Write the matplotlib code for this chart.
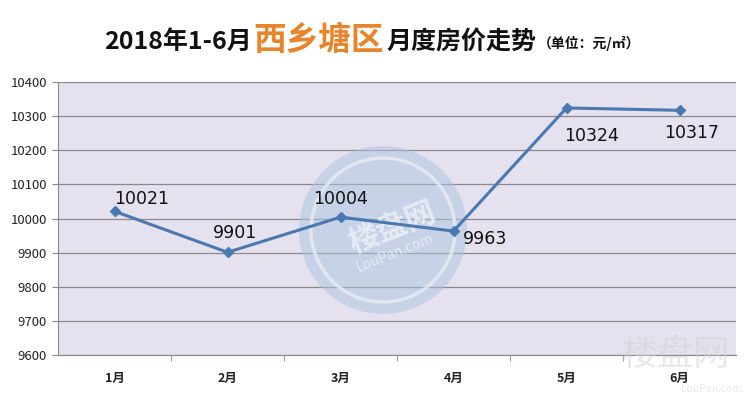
import matplotlib
matplotlib.use("Agg")
import matplotlib.pyplot as plt
from matplotlib.patches import Circle

plt.rcParams['font.family'] = ['Noto Sans CJK SC', 'DejaVu Sans']

months = ["1月", "2月", "3月", "4月", "5月", "6月"]
prices = [10021, 9901, 10004, 9963, 10324, 10317]
y_ticks = [9600, 9700, 9800, 9900, 10000, 10100, 10200, 10300, 10400]

# data-label centre offsets from each marker, in pixels (dx, dy)
label_offsets = [(27, 12), (8, 19), (0, 18), (32, -8), (25, -28), (12, -23)]

W, H = 749, 394
fig = plt.figure(figsize=(W / 100, H / 100), dpi=100)
fig.patch.set_facecolor("white")
ax = fig.add_axes([58 / W, (H - 355) / H, (736 - 58) / W, (355 - 82) / H])
ax.set_facecolor("#e6e1ee")

x = list(range(len(months)))
ax.set_xlim(-0.5, len(months) - 0.5)
ax.set_ylim(y_ticks[0], y_ticks[-1])
ax.set_yticks(y_ticks)
ax.set_yticklabels([str(v) for v in y_ticks], fontsize=9.5, color="#222222")
ax.set_xticks(x)
ax.set_xticklabels(months, fontsize=9, fontweight="bold", color="#222222")
ax.set_xticks([i + 0.5 for i in x[:-1]], minor=True)
ax.tick_params(axis="x", which="major", length=0, pad=12)
ax.tick_params(axis="x", which="minor", length=4, color="#888888")
ax.tick_params(axis="y", length=4, color="#888888", pad=4)
ax.grid(axis="y", color="#8a8a8a", linewidth=0.9)
ax.set_axisbelow(True)
for side in ("top", "right"):
    ax.spines[side].set_visible(False)
ax.spines["left"].set_color("#888888")
ax.spines["bottom"].set_color("#888888")

# faint watermark seal
ax_c = fig.add_axes([0, 0, 1, 1], zorder=1)
ax_c.set_xlim(0, W)
ax_c.set_ylim(H, 0)
ax_c.axis("off")
ax_c.add_patch(Circle((383, 230), 84, facecolor="#a9c4e2", alpha=0.5,
                      edgecolor="none"))
ax_c.add_patch(Circle((383, 230), 72, facecolor="none", edgecolor="#e8ecf4",
                      lw=2.5, alpha=0.8))
ax_c.text(392, 228, "楼盘网", fontsize=22, fontweight="bold", color="#e9eef6",
          rotation=22, ha="center", va="center", alpha=0.9)
ax_c.text(395, 253, "LouPan.com", fontsize=10, color="#e9eef6",
          rotation=22, ha="center", va="center", alpha=0.9)
ax_c.text(676, 355, "楼盘网", fontsize=26, color="#d4d4d4", ha="center",
          va="center", alpha=0.5)
ax_c.text(742, 389, "LouPan.com", fontsize=7.5, color="#d4d4d4", ha="right",
          va="center", alpha=0.5)

ax2 = fig.add_axes(ax.get_position(), zorder=2)
ax2.set_xlim(ax.get_xlim())
ax2.set_ylim(ax.get_ylim())
ax2.axis("off")
ax2.plot(x, prices, color="#4a79b1", linewidth=2.2, marker="D",
         markersize=5.5, markerfacecolor="#4a79b1", markeredgecolor="#4a79b1")
for xi, v, (dx, dy) in zip(x, prices, label_offsets):
    ax2.annotate(str(v), (xi, v), xytext=(dx, dy), textcoords="offset pixels",
                 ha="center", va="center", fontsize=12.5, color="#111111",
                 family="DejaVu Sans")

# title pieces laid out one after another
title_parts = [
    ("2018年1-6月", 18, "#111111", 49),
    ("西乡塘区", 23.5, "#e8842c", 50),
    ("月度房价走势", 18, "#111111", 49),
    ("（单位：元/㎡）", 10, "#111111", 48),
]
renderer = fig.canvas.get_renderer()
x_px = 104
for text, size, color, base in title_parts:
    t = fig.text(x_px / W, 1 - base / H, text, fontsize=size,
                 fontweight="bold", color=color, va="baseline", ha="left")
    bb = t.get_window_extent(renderer=renderer)
    x_px += bb.width + 2

fig.savefig("out.png", dpi=100)
